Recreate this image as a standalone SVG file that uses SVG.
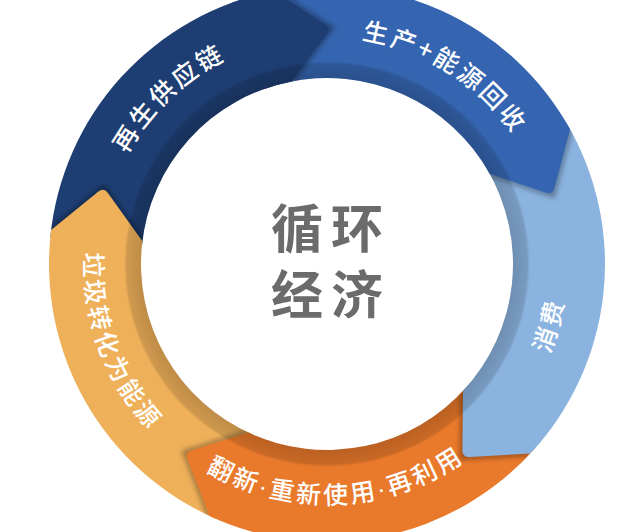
<svg xmlns="http://www.w3.org/2000/svg" width="618" height="532" viewBox="0 0 618 532">
<defs>
<style>
.lbl{font-family:"Noto Sans CJK SC","Noto Sans",sans-serif;font-size:25px;font-weight:500;fill:#ffffff;letter-spacing:3px}
.lbl2{font-family:"Liberation Sans","Noto Sans CJK SC",sans-serif;font-size:25px;font-weight:500;fill:#ffffff;letter-spacing:3px}
.ctr{font-family:"Liberation Sans","Noto Sans CJK SC",sans-serif;font-size:52px;font-weight:bold;fill:#6b6b6b;letter-spacing:8px}
.edge{fill:none;stroke:#000;stroke-opacity:0.35;stroke-width:5}
</style>
<radialGradient id="band" gradientUnits="userSpaceOnUse" cx="0" cy="0" r="278">
<stop offset="0.669" stop-color="#000" stop-opacity="0.2"/>
<stop offset="0.72" stop-color="#000" stop-opacity="0.14"/>
<stop offset="0.73" stop-color="#000" stop-opacity="0"/>
</radialGradient>
<filter id="blur" x="-50%" y="-50%" width="200%" height="200%"><feGaussianBlur stdDeviation="2.5"/></filter>
<clipPath id="ring"><path clip-rule="evenodd" d="M278 0A278 278 0 1 1 -278 0A278 278 0 1 1 278 0ZM186 0A186 186 0 1 0 -186 0A186 186 0 1 0 186 0Z"/></clipPath>
<clipPath id="navyWedge"><polygon points="327,264 190,-112 527,-82"/></clipPath>
<path id="seg" d="M277.90 -7.28A278 278 0 0 1 85.91 264.39L30.97 237.76Q24.67 234.71 28.13 228.62L57.48 176.90A186 186 0 0 0 185.94 -4.87Z"/>
<path id="shadow" class="edge" filter="url(#blur)" clip-path="url(#ring)" d="M85.91 264.39L24.67 234.71L57.48 176.90"/>
<path id="tp1" d="M108.28 199.63A228 228 0 0 1 273.39 42.39"/>
<path id="tp2" d="M335.52 37.16A227 227 0 0 1 527.71 157.95"/>
<path id="tp3" d="M495.52 434.89A240 240 0 0 0 559.25 203.50"/>
<path id="tp4" d="M164.86 440.95A240 240 0 0 0 503.95 426.14"/>
<path id="tp5" d="M91.85 202.75A243 243 0 0 0 189.01 464.02"/>
</defs>
<rect width="618" height="532" fill="#ffffff"/>

<g id="navy">
<g id="navyShape" transform="translate(327 264) rotate(187)">
<use href="#shadow"/>
<use href="#seg" fill="#1e3e73"/>
<use href="#seg" fill="url(#band)"/>
</g>
<text class="lbl"><textPath href="#tp1" startOffset="50%" text-anchor="middle">再生供应链</textPath></text>
</g>

<g id="lightorange">
<g transform="translate(327 264) rotate(115)">
<use href="#shadow"/>
<use href="#seg" fill="#efb05a"/>
<use href="#seg" fill="url(#band)"/>
</g>
<text class="lbl"><textPath href="#tp5" startOffset="50%" text-anchor="middle">垃圾转化为能源</textPath></text>
</g>

<g id="orange">
<g transform="translate(327 264) rotate(43)">
<use href="#shadow"/>
<use href="#seg" fill="#e9792b"/>
<use href="#seg" fill="url(#band)"/>
</g>
<text class="lbl2"><textPath href="#tp4" startOffset="50%" text-anchor="middle">翻新·重新使用·再利用</textPath></text>
</g>

<g id="lightblue">
<g transform="translate(327 264) rotate(331)">
<use href="#shadow"/>
<use href="#seg" fill="#8bb3df"/>
<use href="#seg" fill="url(#band)"/>
</g>
<text class="lbl"><textPath href="#tp3" startOffset="50%" text-anchor="middle">消费</textPath></text>
</g>

<g id="blue">
<g transform="translate(327 264) rotate(259)">
<use href="#shadow"/>
<use href="#seg" fill="#3565b0"/>
<use href="#seg" fill="url(#band)"/>
</g>
<text class="lbl"><textPath href="#tp2" startOffset="50%" text-anchor="middle">生产+能源回收</textPath></text>
</g>

<g id="navy-tip" clip-path="url(#navyWedge)">
<use href="#navyShape"/>
</g>

<g id="center">
<text class="ctr" x="331" y="248" text-anchor="middle">循环</text>
<text class="ctr" x="331" y="314" text-anchor="middle">经济</text>
</g>
</svg>
